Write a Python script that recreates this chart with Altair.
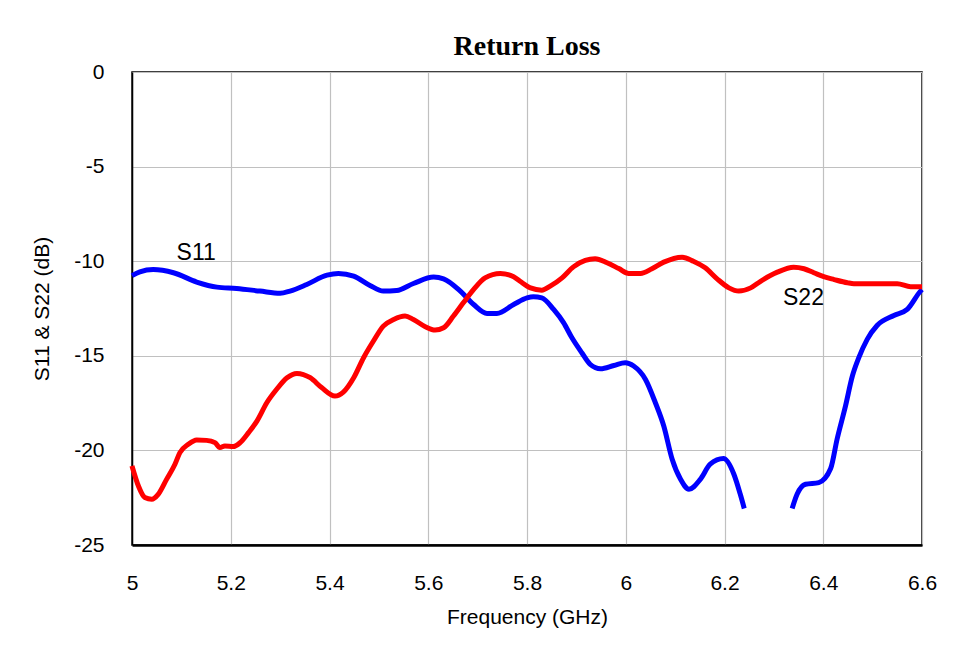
import altair as alt
import pandas as pd

# S11 (blue) – two segments (gap below the axis region)
s11_f_a = [5.000, 5.016, 5.043, 5.084, 5.131, 5.172, 5.212, 5.259, 5.300, 5.320, 5.354,
           5.395, 5.418, 5.449, 5.482, 5.509, 5.536, 5.570, 5.611, 5.631, 5.665, 5.692,
           5.719, 5.739, 5.773, 5.800, 5.813, 5.830, 5.854, 5.874, 5.891, 5.911, 5.928,
           5.949, 5.976, 5.999, 6.016, 6.040, 6.060, 6.077, 6.094, 6.111, 6.128, 6.151,
           6.171, 6.198, 6.219, 6.232, 6.240]
s11_db_a = [-10.76, -10.56, -10.44, -10.61, -11.10, -11.37, -11.44, -11.58, -11.70, -11.58, -11.23,
            -10.74, -10.65, -10.79, -11.28, -11.58, -11.55, -11.18, -10.84, -10.93, -11.58, -12.29,
            -12.76, -12.76, -12.29, -11.94, -11.88, -11.94, -12.55, -13.25, -14.05, -14.84, -15.45,
            -15.68, -15.51, -15.37, -15.54, -16.25, -17.48, -18.71, -20.47, -21.53, -22.05, -21.53,
            -20.73, -20.43, -21.26, -22.32, -23.07]
s11_f_b = [6.337, 6.347, 6.364, 6.391, 6.415, 6.428, 6.445, 6.459, 6.472, 6.489, 6.509,
           6.543, 6.570, 6.597, 6.600]
s11_db_b = [-23.07, -22.32, -21.79, -21.70, -20.96, -19.41, -17.66, -16.07, -15.10, -14.13, -13.40,
            -12.87, -12.55, -11.58, -11.50]

# S22 (red)
s22_f = [5.000, 5.013, 5.026, 5.040, 5.053, 5.070, 5.087, 5.097, 5.114, 5.131, 5.151,
         5.168, 5.178, 5.188, 5.205, 5.219, 5.236, 5.253, 5.273, 5.293, 5.314, 5.334,
         5.361, 5.384, 5.411, 5.428, 5.449, 5.469, 5.489, 5.509, 5.530, 5.553, 5.570,
         5.594, 5.614, 5.631, 5.651, 5.671, 5.692, 5.715, 5.746, 5.773, 5.786, 5.807,
         5.830, 5.847, 5.871, 5.894, 5.918, 5.938, 5.962, 5.986, 6.006, 6.030, 6.053,
         6.077, 6.114, 6.137, 6.161, 6.185, 6.209, 6.229, 6.253, 6.273, 6.307, 6.340,
         6.361, 6.381, 6.401, 6.422, 6.449, 6.462, 6.550, 6.577, 6.600]
s22_db = [-20.82, -21.88, -22.49, -22.58, -22.32, -21.53, -20.73, -20.12, -19.68, -19.45, -19.47,
          -19.59, -19.85, -19.77, -19.80, -19.59, -19.06, -18.45, -17.48, -16.77, -16.16, -15.93,
          -16.16, -16.68, -17.13, -16.92, -16.16, -15.10, -14.22, -13.43, -13.08, -12.90, -13.08,
          -13.46, -13.64, -13.52, -12.90, -12.20, -11.49, -10.88, -10.65, -10.82, -11.06, -11.41,
          -11.53, -11.32, -10.88, -10.30, -9.96, -9.87, -10.08, -10.39, -10.65, -10.65, -10.40,
          -10.05, -9.79, -10.00, -10.35, -10.93, -11.41, -11.58, -11.41, -11.06, -10.58, -10.32,
          -10.40, -10.61, -10.82, -10.97, -11.14, -11.19, -11.19, -11.35, -11.35]

label_text = ["S11", "S22"]
label_f = [5.130, 6.360]
label_db = [-9.59, -11.97]

x_ticks = [5.0, 5.2, 5.4, 5.6, 5.8, 6.0, 6.2, 6.4, 6.6]
y_ticks = [0, -5, -10, -15, -20, -25]

rows = []
for f, d in zip(s11_f_a, s11_db_a):
    rows.append({"f": f, "db": d, "series": "S11", "part": "S11a"})
for f, d in zip(s11_f_b, s11_db_b):
    rows.append({"f": f, "db": d, "series": "S11", "part": "S11b"})
for f, d in zip(s22_f, s22_db):
    rows.append({"f": f, "db": d, "series": "S22", "part": "S22"})
df = pd.DataFrame(rows)

labels_df = pd.DataFrame({"text": label_text, "f": label_f, "db": label_db})

axis_style = dict(
    labelFont="Liberation Sans", labelFontSize=21, labelColor="#000000",
    titleFont="Liberation Sans", titleFontSize=21, titleColor="#000000",
    titleFontWeight="normal", ticks=False, domainColor="#000000",
    grid=True, gridColor="#c0c0c0", gridWidth=1.2, labelFlush=False,
)

x_enc = alt.X("f:Q",
              scale=alt.Scale(domain=[5.0, 6.6], nice=False, zero=False),
              axis=alt.Axis(values=x_ticks, title="Frequency (GHz)",
                            labelExpr="'' + round(datum.value * 10) / 10",
                            labelPadding=27, titlePadding=13, domainWidth=2.5,
                            **axis_style))
y_enc = alt.Y("db:Q",
              scale=alt.Scale(domain=[-25, 0], nice=False, zero=False),
              axis=alt.Axis(values=y_ticks, title="S11 & S22 (dB)",
                            labelExpr="'' + datum.value",
                            labelPadding=28, titlePadding=21, domainWidth=1.5,
                            **axis_style))

lines = alt.Chart(df).mark_line(strokeWidth=5, strokeJoin="round", strokeCap="butt",
                                interpolate="monotone").encode(
    x=x_enc,
    y=y_enc,
    color=alt.Color("series:N",
                    scale=alt.Scale(domain=["S11", "S22"], range=["#0000ff", "#ff0000"]),
                    legend=None),
    detail="part:N",
    order="f:Q",
)

texts = alt.Chart(labels_df).mark_text(
    font="Liberation Sans", fontSize=23, color="#000000", align="center", baseline="middle"
).encode(
    x="f:Q",
    y="db:Q",
    text="text:N",
)

chart = alt.layer(lines, texts).properties(
    width=790,
    height=473,
    background="#ffffff",
    title=alt.TitleParams("Return Loss", font="Liberation Serif", fontSize=28,
                          fontWeight="bold", color="#000000", anchor="middle", offset=0),
    autosize=alt.AutoSizeParams(type="none"),
    padding={"left": 124, "top": 64, "right": 29, "bottom": 90},
).configure_view(
    stroke="#000000", strokeWidth=1.5
)

chart.save("out.html", embed_options={"renderer": "svg", "actions": False})
